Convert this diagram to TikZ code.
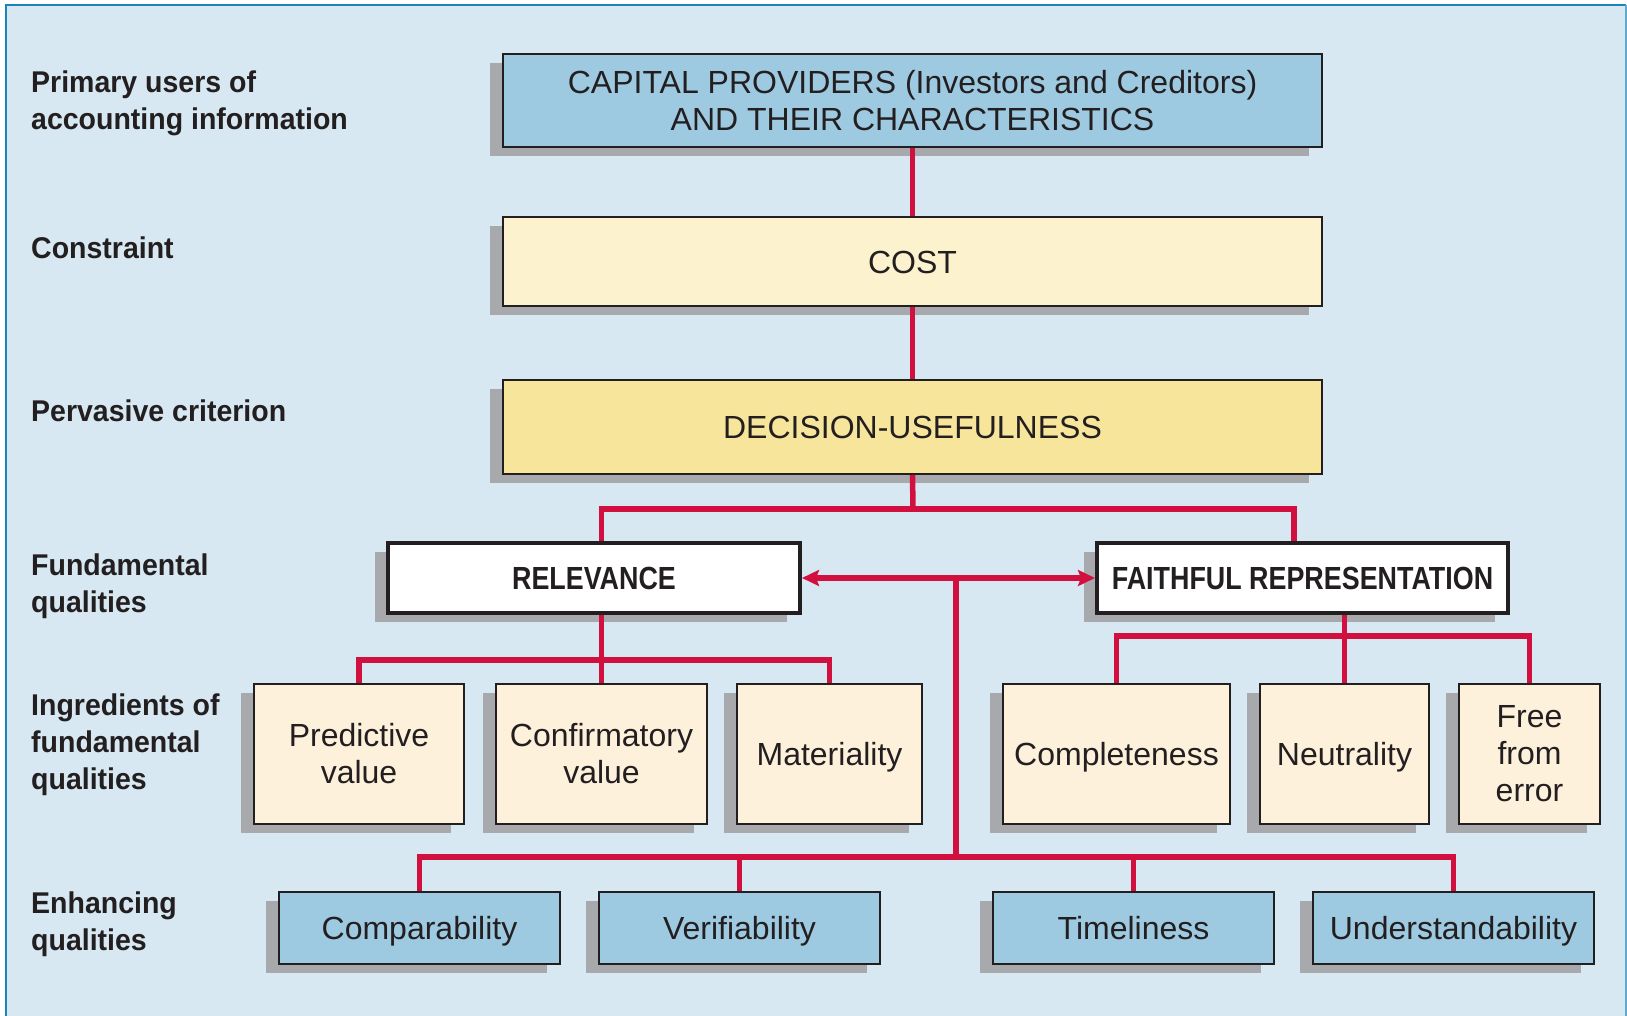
\documentclass[tikz,border=0pt]{standalone}
\usepackage{fontspec}
\setmainfont{Liberation Sans}
\newfontfamily\labfont[FakeStretch=0.95]{Liberation Sans Bold}
\newfontfamily\headfont[FakeStretch=0.84]{Liberation Sans Bold}
\usetikzlibrary{arrows.meta,shadows}
\definecolor{bgc}{HTML}{D7E8F2}
\definecolor{borderc}{HTML}{1A86B8}
\definecolor{capc}{HTML}{9ECAE1}
\definecolor{costc}{HTML}{FCF2CD}
\definecolor{decc}{HTML}{F6E59B}
\definecolor{ingc}{HTML}{FEF1DC}
\definecolor{redc}{HTML}{D2103F}
\definecolor{shadowc}{HTML}{A7A9AC}
\definecolor{ink}{HTML}{231F20}
\begin{document}
\begin{tikzpicture}[x=1pt,y=-1pt,
  box/.style={draw=ink, line width=2pt, inner sep=0pt, align=center, text=ink,
    font=\fontsize{32}{37}\selectfont,
    general shadow={fill=shadowc, shadow xshift=-13pt, shadow yshift=-9pt}},
  one/.style={text height=30pt, text depth=7pt},
  hbox/.style={box, one, fill=white, line width=4pt, font=\headfont\fontsize{32}{37}\selectfont},
  ing/.style={box, fill=ingc, minimum height=140pt},
  enh/.style={box, one, fill=capc, minimum height=72pt, minimum width=281pt},
  lab/.style={anchor=west, inner sep=0pt, align=left, text=ink,
    font=\labfont\fontsize{30}{37}\selectfont},
  conn/.style={draw=redc, line width=5.5pt},
  tip/.tip={Stealth[length=17pt,width=16pt,inset=3pt]}]
\useasboundingbox (0,0) rectangle (1627,1016);
\fill[white] (0,0) rectangle (1627,1016);
\fill[bgc] (6,5) rectangle (1626,1020);
\draw[borderc, line width=2.5pt] (6,1020) -- (6,5) -- (1626,5);
\draw[borderc!70, line width=1.5pt] (1626,5) -- (1626,1020);

% left labels
\node[lab] (l1) at (31,103) {Primary users of\\accounting information};
\node[lab] (l2) at (31,248) {Constraint};
\node[lab] (l3) at (31,411) {Pervasive criterion};
\node[lab] (l4) at (31,586) {Fundamental\\qualities};
\node[lab] (l5) at (31,745) {Ingredients of\\fundamental\\qualities};
\node[lab] (l6) at (31,924) {Enhancing\\qualities};

% main boxes
\node[box, fill=capc, minimum width=819pt, minimum height=93pt] (cap) at (912.5,100.5)
  {CAPITAL PROVIDERS (Investors and Creditors)\\AND THEIR CHARACTERISTICS};
\node[box, one, fill=costc, minimum width=819pt, minimum height=89pt] (cost) at (912.5,261.5) {COST};
\node[box, one, fill=decc, minimum width=819pt, minimum height=94pt] (dec) at (912.5,427) {DECISION-USEFULNESS};
\node[hbox, minimum width=412pt, minimum height=70pt] (rel) at (594,578) {RELEVANCE};
\node[hbox, minimum width=411pt, minimum height=70pt] (fr) at (1302.5,578) {FAITHFUL REPRESENTATION};

% ingredients
\node[ing, minimum width=210pt] (pred) at (359,754) {Predictive\\value};
\node[ing, minimum width=211pt] (conf) at (601.5,754) {Confirmatory\\value};
\node[ing, one, minimum width=185pt] (mat) at (829.5,754) {Materiality};
\node[ing, one, minimum width=227pt] (compl) at (1116.5,754) {Completeness};
\node[ing, one, minimum width=169pt] (neut) at (1344.5,754) {Neutrality};
\node[ing, minimum width=141pt] (free) at (1529.5,754) {Free\\from\\error};

% enhancing
\node[enh] (comp) at (419.5,928) {Comparability};
\node[enh] (ver) at (739.5,928) {Verifiability};
\node[enh] (tim) at (1133.5,928) {Timeliness};
\node[enh] (und) at (1453.5,928) {Understandability};

% connectors
\coordinate (j1) at (913,509);
\coordinate (hub) at (956,578);
\coordinate (ej) at (956,857);
\coordinate (rj) at (601.5,660);
\coordinate (fj) at (1344.5,636);
\draw[conn] (cap.south) -- (cost.north);
\draw[conn] (cost.south) -- (dec.north);
\draw[conn] (dec.south) -- (j1);
\draw[conn] (rel.north -| conf.north) |- (j1) -| ([xshift=-8.5pt]fr.north);
\draw[conn, tip-tip] (rel.east) -- (fr.west);
\draw[conn] (hub) -- (ej);
\draw[conn] (comp.north) |- (ej) -| (und.north);
\draw[conn] (ver.north) -- (ver.north |- ej);
\draw[conn] (tim.north) -- (tim.north |- ej);
\draw[conn] (rel.south -| conf.north) -- (conf.north);
\draw[conn] (pred.north) |- (rj) -| (mat.north);
\draw[conn] (fr.south -| neut.north) -- (neut.north);
\draw[conn] (compl.north) |- (fj) -| (free.north);
\end{tikzpicture}
\end{document}
